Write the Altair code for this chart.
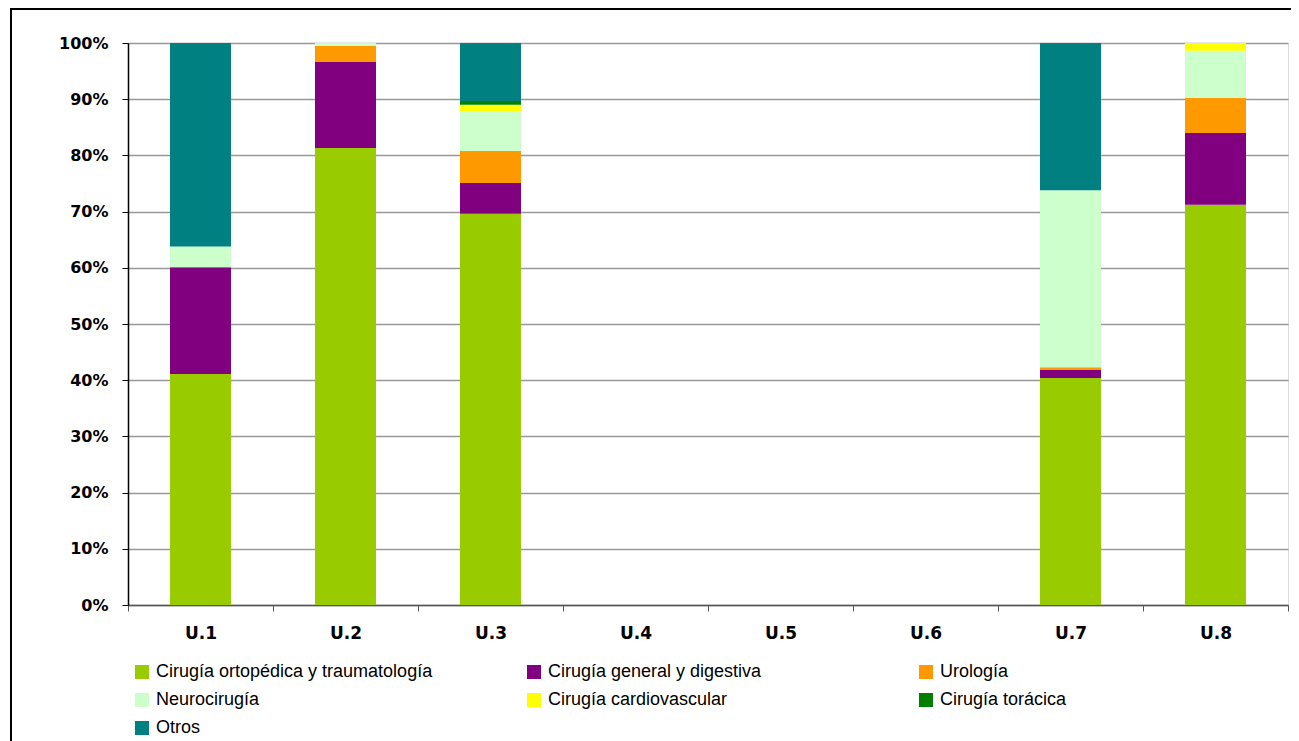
import altair as alt
import pandas as pd

units = ["U.1", "U.2", "U.3", "U.4", "U.5", "U.6", "U.7", "U.8"]
series = ["Cirugía ortopédica y traumatología", "Cirugía general y digestiva", "Urología",
          "Neurocirugía", "Cirugía cardiovascular", "Cirugía torácica", "Otros"]
colors = ["#99CC00", "#800080", "#FF9900", "#CCFFCC", "#FFFF00", "#008000", "#008080"]

ortopedica = [41.1, 81.3, 69.6, 0, 0, 0, 40.4, 71.2]
general = [19.0, 15.3, 5.5, 0, 0, 0, 1.4, 12.8]
urologia = [0, 2.9, 5.7, 0, 0, 0, 0.5, 6.2]
neuro = [3.7, 0.5, 7.0, 0, 0, 0, 31.5, 8.4]
cardio = [0, 0, 1.2, 0, 0, 0, 0, 1.4]
toracica = [0, 0, 0.7, 0, 0, 0, 0, 0]
otros = [36.2, 0, 10.3, 0, 0, 0, 26.2, 0]

values = [ortopedica, general, urologia, neuro, cardio, toracica, otros]
rows = []
for si, (name, vals) in enumerate(zip(series, values)):
    for u, v in zip(units, vals):
        rows.append({"unidad": u, "serie": name, "orden": si, "valor": v})
df = pd.DataFrame(rows)

bars = alt.Chart(df).mark_bar(size=61).encode(
    x=alt.X("unidad:N", scale=alt.Scale(domain=units, paddingInner=0, paddingOuter=0),
            axis=alt.Axis(title=None, labelAngle=0, tickBand="extent", tickSize=6,
                          domainColor="#555555", tickColor="#555555", domainWidth=1.5,
                          labelFont="DejaVu Sans", labelFontWeight="bold", labelFontSize=17,
                          labelColor="#000000", labelPadding=14, grid=False)),
    y=alt.Y("valor:Q", stack="zero", scale=alt.Scale(domain=[0, 100], nice=False),
            axis=alt.Axis(title=None, values=list(range(0, 101, 10)),
                          labelExpr="datum.value + '%'",
                          domainColor="#000000", domainWidth=1.5, tickColor="#000000",
                          tickSize=6, labelFont="DejaVu Sans", labelFontWeight="bold",
                          labelFontSize=16, labelColor="#000000", labelPadding=14,
                          grid=True, gridColor="#999999", gridWidth=1.5)),
    color=alt.Color("serie:N", scale=alt.Scale(domain=series, range=colors),
                    legend=alt.Legend(title=None, orient="none", legendX=5, legendY=620,
                                      direction="horizontal",
                                      columns=3, gridAlign="all", columnPadding=92,
                                      rowPadding=10, symbolType="square", symbolSize=196,
                                      symbolStrokeWidth=0, labelFont="Liberation Sans",
                                      labelFontSize=18, labelColor="#000000", labelOffset=5,
                                      padding=0, labelLimit=600)),
    order=alt.Order("orden:Q", sort="ascending"),
)

frame = alt.Chart(pd.DataFrame({"a": [0]})).mark_rect(
    fill=None, stroke="#000000", strokeWidth=2
).encode(
    x=alt.value(-117), x2=alt.value(1300), y=alt.value(-34), y2=alt.value(900)
)

chart = alt.layer(bars, frame).properties(
    width=1160, height=562,
    autosize=alt.AutoSizeParams(type="none"),
    padding={"left": 120, "top": 35, "right": 3, "bottom": 136},
).configure_view(stroke="#999999", strokeWidth=1.5).configure(background="#ffffff")

chart.save("out.html", embed_options={"renderer": "svg", "actions": False})
